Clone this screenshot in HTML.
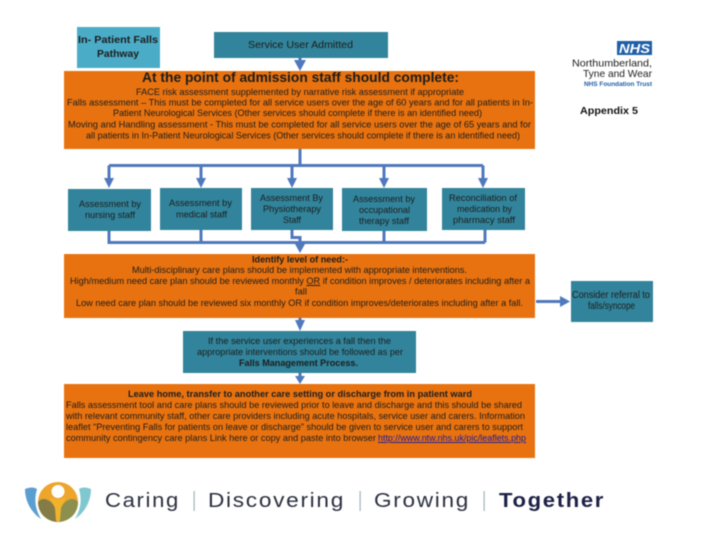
<!DOCTYPE html>
<html lang="en">
<head>
<meta charset="utf-8">
<title>In-Patient Falls Pathway</title>
<style>
html,body{margin:0;padding:0;background:#fff;width:720px;height:540px;overflow:hidden}
svg{display:block;filter:blur(.4px)}
text{font-family:"Liberation Sans",sans-serif;fill:#1c1c1c}
.s{font-size:9.3px}
.m{font-size:9.5px}
.b{font-weight:bold}
.f{font-size:20px;letter-spacing:1.5px;fill:#2b3040}
</style>
</head>
<body>
<svg width="720" height="540" viewBox="0 0 720 540" xmlns="http://www.w3.org/2000/svg">
<rect width="720" height="540" fill="#fff"/>

<!-- boxes -->
<g fill="#e8720f">
<rect x="64" y="71" width="471" height="78"/>
<rect x="64" y="254" width="471" height="64"/>
<rect x="64" y="384" width="471" height="74"/>
</g>
<rect x="77" y="27" width="83" height="41" fill="#4bacc8"/>
<g fill="#31849b">
<rect x="214" y="32" width="174" height="26"/>
<rect x="68" y="189" width="83" height="42"/>
<rect x="160" y="188" width="82" height="42"/>
<rect x="251" y="188" width="82" height="42"/>
<rect x="342" y="188" width="85" height="43"/>
<rect x="442" y="188" width="83" height="42"/>
<rect x="183" y="331" width="233" height="42"/>
<rect x="571" y="281" width="82" height="41"/>
</g>

<!-- connectors -->
<g fill="none" stroke="#4f78bd" stroke-width="3">
<path d="M300 58V62"/>
<path d="M300 149V165.500"/>
<path d="M109 165.500H483"/>
<path d="M109 165.500V180M201 165.500V180M292 165.500V180M384 165.500V180M483 165.500V180"/>
<path d="M109 231V242.500H485"/>
<path d="M201 230V242.500M384 231V242.500M485 230V242.500"/>
<path d="M292 230V237.500H300V246"/>
<path d="M300 318V322M300 373V378"/>
<path d="M536 301.500H561"/>
</g>
<g fill="#4f78bd">
<path d="M294 60H306L300 71Z"/>
<path d="M104 178H114L109 188Z"/>
<path d="M196 178H206L201 188Z"/>
<path d="M287 178H297L292 188Z"/>
<path d="M379 178H389L384 188Z"/>
<path d="M478 178H488L483 188Z"/>
<path d="M295 244H305L300 253Z"/>
<path d="M295 320H305L300 331Z"/>
<path d="M295 376H305L300 384Z"/>
<path d="M560 296V307L570 301.500Z"/>
</g>

<!-- header labels -->
<text class="b" x="78" y="43" font-size="10" textLength="80" lengthAdjust="spacingAndGlyphs">In- Patient Falls</text>
<text class="b" x="97" y="57" font-size="10" textLength="42" lengthAdjust="spacingAndGlyphs">Pathway</text>
<text x="248" y="48" font-size="10" textLength="105" lengthAdjust="spacingAndGlyphs">Service User Admitted</text>

<!-- orange 1 -->
<text class="b" x="142" y="82" font-size="13.500" textLength="317" lengthAdjust="spacingAndGlyphs">At the point of admission staff should complete:</text>
<text class="s" x="136" y="95" textLength="328" lengthAdjust="spacingAndGlyphs">FACE risk assessment supplemented by narrative risk assessment if appropriate</text>
<text class="s" x="67" y="105.500" textLength="466" lengthAdjust="spacingAndGlyphs">Falls assessment – This must be completed for all service users over the age of 60 years and for all patients in In-</text>
<text class="s" x="113" y="116" textLength="369" lengthAdjust="spacingAndGlyphs">Patient Neurological Services (Other services should complete if there is an identified need)</text>
<text class="s" x="68" y="127.500" textLength="463" lengthAdjust="spacingAndGlyphs">Moving and Handling assessment  - This must be completed for all service users over the age of 65 years and for</text>
<text class="s" x="86" y="138.500" textLength="434" lengthAdjust="spacingAndGlyphs">all patients in In-Patient Neurological Services (Other services should complete if there is an identified need)</text>

<!-- row boxes -->
<text class="m" x="79" y="207" textLength="62" lengthAdjust="spacingAndGlyphs">Assessment by</text>
<text class="m" x="85" y="218" textLength="50" lengthAdjust="spacingAndGlyphs">nursing staff</text>
<text class="m" x="169" y="206" textLength="63" lengthAdjust="spacingAndGlyphs">Assessment by</text>
<text class="m" x="176" y="217.500" textLength="51" lengthAdjust="spacingAndGlyphs">medical staff</text>
<text class="m" x="260" y="201" textLength="63" lengthAdjust="spacingAndGlyphs">Assessment By</text>
<text class="m" x="263" y="212" textLength="58" lengthAdjust="spacingAndGlyphs">Physiotherapy</text>
<text class="m" x="283" y="223" textLength="18" lengthAdjust="spacingAndGlyphs">Staff</text>
<text class="m" x="353" y="202" textLength="62" lengthAdjust="spacingAndGlyphs">Assessment by</text>
<text class="m" x="359" y="213" textLength="51" lengthAdjust="spacingAndGlyphs">occupational</text>
<text class="m" x="359" y="224" textLength="50" lengthAdjust="spacingAndGlyphs">therapy staff</text>
<text class="m" x="449" y="201" textLength="68" lengthAdjust="spacingAndGlyphs">Reconciliation of</text>
<text class="m" x="457" y="212" textLength="55" lengthAdjust="spacingAndGlyphs">medication by</text>
<text class="m" x="453" y="223" textLength="62" lengthAdjust="spacingAndGlyphs">pharmacy staff</text>

<!-- orange 2 -->
<text class="b" x="252" y="262.500" font-size="8.800" textLength="96" lengthAdjust="spacingAndGlyphs">Identify level of need:-</text>
<text class="s" x="132" y="273" textLength="335" lengthAdjust="spacingAndGlyphs">Multi-disciplinary care plans should be implemented with appropriate interventions.</text>
<text class="s" x="70" y="284" textLength="460" lengthAdjust="spacingAndGlyphs">High/medium need care plan should be reviewed monthly <tspan text-decoration="underline">OR</tspan> if condition improves / deteriorates including after a</text>
<text class="s" x="295" y="294.500">fall</text>
<text class="s" x="76" y="306" textLength="447" lengthAdjust="spacingAndGlyphs">Low need care plan should be reviewed six monthly OR if condition improves/deteriorates including after a fall.</text>

<!-- teal middle -->
<text class="s" x="208" y="344" textLength="183" lengthAdjust="spacingAndGlyphs">If the service user experiences a fall then the</text>
<text class="s" x="197" y="355" textLength="206" lengthAdjust="spacingAndGlyphs">appropriate interventions should be followed as per</text>
<text class="s b" x="239" y="366" textLength="119" lengthAdjust="spacingAndGlyphs">Falls Management Process.</text>

<!-- orange 3 -->
<text class="s b" x="128" y="397" textLength="344" lengthAdjust="spacingAndGlyphs">Leave home, transfer to another care setting or discharge from in patient ward</text>
<text class="s" x="66" y="408" textLength="456" lengthAdjust="spacingAndGlyphs">Falls assessment tool and care plans should be reviewed prior to leave and discharge and this should be shared</text>
<text class="s" x="66" y="419" textLength="459" lengthAdjust="spacingAndGlyphs">with relevant community staff, other care providers including acute hospitals, service user and carers. Information</text>
<text class="s" x="66" y="430" textLength="457" lengthAdjust="spacingAndGlyphs">leaflet “Preventing Falls for patients on leave or discharge” should be given to service user and carers to support</text>
<text class="s" x="66" y="441" textLength="310" lengthAdjust="spacingAndGlyphs">community contingency care plans Link here or copy and paste into browser</text>
<text class="s" x="378" y="441" textLength="148" lengthAdjust="spacingAndGlyphs" style="fill:#1a1a9c" text-decoration="underline">http://www.ntw.nhs.uk/pic/leaflets.php</text>

<!-- right column -->
<rect x="617" y="41" width="35" height="14" fill="#1f5fa8"/>
<text class="b" x="619" y="53" font-size="13" font-style="italic" style="fill:#fff" textLength="31" lengthAdjust="spacingAndGlyphs">NHS</text>
<text x="572" y="66.500" font-size="10.500" textLength="80" lengthAdjust="spacingAndGlyphs">Northumberland,</text>
<text x="583" y="77" font-size="10.500" textLength="69" lengthAdjust="spacingAndGlyphs">Tyne and Wear</text>
<text class="b" x="584" y="86" font-size="6.500" style="fill:#1f5fa8" textLength="68" lengthAdjust="spacingAndGlyphs">NHS Foundation Trust</text>
<text class="b" x="580" y="114" font-size="10" style="fill:#111" textLength="58" lengthAdjust="spacingAndGlyphs">Appendix 5</text>
<text x="572" y="298" font-size="10" textLength="78" lengthAdjust="spacingAndGlyphs">Consider referral to</text>
<text x="588" y="309" font-size="10" textLength="47" lengthAdjust="spacingAndGlyphs">falls/syncope</text>

<!-- footer logo -->
<path d="M25 489C30 487 34 487 37 489C34 499 35 509 41 519C32 513 25 502 25 489Z" fill="#5a9fd0"/>
<path d="M91 489C86 487 82 487 79 489C82 499 81 509 75 519C84 513 91 502 91 489Z" fill="#7fc8cf"/>
<circle cx="58" cy="502" r="20" fill="#eda52c"/>
<path d="M38 502C42 496 52 499 56 510C57 515 57 519 57 522C46 521 38 513 38 502Z" fill="#847c46"/>
<path d="M78 502C74 496 64 499 60 510C59 515 59 519 59 522C70 521 78 513 78 502Z" fill="#8c8f4d"/>
<path d="M50 497C53 500 63 500 66 497L61 508L60 521H56L55 508Z" fill="#f2b32c"/>
<circle cx="58" cy="491.500" r="6.500" fill="#fff"/>

<!-- footer strapline -->
<text class="f" x="105" y="507" textLength="75" lengthAdjust="spacingAndGlyphs">Caring</text>
<text class="f" x="208" y="507" textLength="137" lengthAdjust="spacingAndGlyphs">Discovering</text>
<text class="f" x="374" y="507" textLength="96" lengthAdjust="spacingAndGlyphs">Growing</text>
<text class="f b" x="499" y="507" style="fill:#1c2045" textLength="106" lengthAdjust="spacingAndGlyphs">Together</text>
<g fill="#9fb4bd">
<rect x="193.500" y="491" width="1.200" height="20"/>
<rect x="359.500" y="491" width="1.200" height="20"/>
<rect x="483.500" y="491" width="1.200" height="20"/>
</g>
</svg>
</body>
</html>
